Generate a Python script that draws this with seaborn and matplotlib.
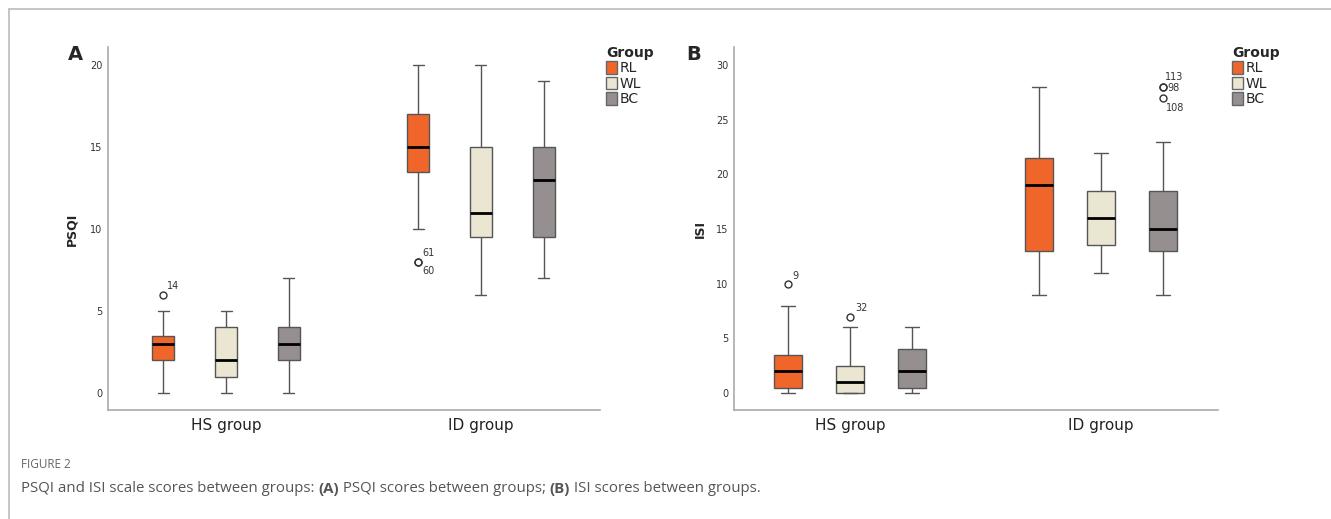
import matplotlib
matplotlib.use("Agg")
import matplotlib.pyplot as plt
import matplotlib.patches as mpatches
from matplotlib.lines import Line2D
import pandas as pd
import seaborn as sns

groups = ["HS group", "ID group"]
hues = ["RL", "WL", "BC"]
colors = ["#F0662A", "#EBE6D2", "#958F90"]

# box order: HS-RL, HS-WL, HS-BC, ID-RL, ID-WL, ID-BC
# values (low whisker, Q1, median, Q3, high whisker, outliers)
psqi_low = [0, 0, 0, 10, 6, 7]
psqi_q1 = [2, 1, 2, 13.5, 9.5, 9.5]
psqi_med = [3, 2, 3, 15, 11, 13]
psqi_q3 = [3.5, 4, 4, 17, 15, 15]
psqi_high = [5, 5, 7, 20, 20, 19]
psqi_out = [[6], [], [], [8, 8], [], []]
psqi_out_ids = [["14"], [], [], ["61", "60"], [], []]

isi_low = [0, 0, 0, 9, 11, 9]
isi_q1 = [0.5, 0, 0.5, 13, 13.5, 13]
isi_med = [2, 1, 2, 19, 16, 15]
isi_q3 = [3.5, 2.5, 4, 21.5, 18.5, 18.5]
isi_high = [8, 6, 6, 28, 22, 23]
isi_out = [[10], [7], [], [], [], [28, 28, 27]]
isi_out_ids = [["9"], ["32"], [], [], [], ["113", "98", "108"]]

# label offsets in pixels for the case numbers
id_offsets = {"14": (4, 9), "61": (4, 9), "60": (4, -9), "9": (4, 8),
              "32": (5, 9), "113": (2, 10), "98": (5, -1), "108": (3, -10)}


def box_sample(lo, q1, med, q3, hi, out, k=4):
    # repeat the read values so that the quartiles land on them exactly
    low_out = sorted(o for o in out if o < q1)
    high_out = sorted(o for o in out if o > q3)
    a, b = len(low_out), len(high_out)
    return (low_out + [lo] + [q1] * (k - a) + [med] * k + [q3] * k
            + [q3] * (k - b - 1) + [hi] + high_out)


def make_frame(low, q1, med, q3, high, out):
    rows = []
    i = 0
    for g in groups:
        for h in hues:
            for v in box_sample(low[i], q1[i], med[i], q3[i], high[i], out[i]):
                rows.append({"group": g, "Group": h, "score": v})
            i += 1
    return pd.DataFrame(rows)


psqi_df = make_frame(psqi_low, psqi_q1, psqi_med, psqi_q3, psqi_high, psqi_out)
isi_df = make_frame(isi_low, isi_q1, isi_med, isi_q3, isi_high, isi_out)

sns.set_theme(style="white")
plt.rcParams["font.family"] = ["DejaVu Sans"]

W, H = 1331, 519
fig = plt.figure(figsize=(W / 100, H / 100), dpi=100)


def px_axes(x0, x1, y0, y1):
    return fig.add_axes([x0 / W, 1 - y1 / H, (x1 - x0) / W, (y1 - y0) / H])


panels = [
    dict(df=psqi_df, out=psqi_out, ids=psqi_out_ids, ylabel="PSQI", letter="A",
         rect=(108, 600, 47, 410), ylim=(-1.04, 21.1), ticks=[0, 5, 10, 15, 20],
         gap=0.65, letter_xy=(75, 54), ylab_x=72, leg_x=606),
    dict(df=isi_df, out=isi_out, ids=isi_out_ids, ylabel="ISI", letter="B",
         rect=(734, 1218, 47, 410), ylim=(-1.55, 31.65),
         ticks=[0, 5, 10, 15, 20, 25, 30],
         gap=0.55, letter_xy=(694, 54), ylab_x=700, leg_x=1232),
]

box_width = 0.74
edge = "#555555"

for p in panels:
    ax = px_axes(*p["rect"])
    sns.boxplot(data=p["df"], x="group", y="score", hue="Group",
                order=groups, hue_order=hues, palette=colors, saturation=1,
                width=box_width, gap=p["gap"], linecolor=edge, linewidth=1.0,
                medianprops={"color": "black", "linewidth": 2.0},
                flierprops={"marker": "o", "markerfacecolor": "none",
                            "markeredgecolor": "#333333", "markersize": 5,
                            "markeredgewidth": 1.0},
                legend=False, ax=ax)
    ax.set_xlim(-0.463, 1.467)
    ax.set_ylim(*p["ylim"])
    ax.set_yticks(p["ticks"])
    ax.set_yticklabels([str(t) for t in p["ticks"]], fontsize=7, color="#333333")
    ax.tick_params(axis="both", length=0)
    ax.tick_params(axis="y", pad=4)
    ax.tick_params(axis="x", pad=6, labelsize=11, labelcolor="#222222")
    ax.set_xlabel("")
    ax.set_ylabel("")
    for side in ["top", "right"]:
        ax.spines[side].set_visible(False)
    for side in ["left", "bottom"]:
        ax.spines[side].set_color("#aaaaaa")
        ax.spines[side].set_linewidth(1.2)

    # case numbers next to outliers
    slot = box_width / len(hues)
    i = 0
    for gi in range(len(groups)):
        for hi in range(len(hues)):
            xpos = gi + (hi - 1) * slot
            for v, lab in zip(p["out"][i], p["ids"][i]):
                dx, dy = id_offsets[lab]
                ax.annotate(lab, (xpos, v), xytext=(dx, dy),
                            textcoords="offset pixels", ha="left", va="center",
                            fontsize=7, color="#333333")
            i += 1

    fig.text(p["ylab_x"] / W, 1 - 229 / H, p["ylabel"], rotation=90,
             ha="center", va="center", fontsize=9, fontweight="bold")
    fig.text(p["letter_xy"][0] / W, 1 - p["letter_xy"][1] / H, p["letter"],
             ha="center", va="center", fontsize=14, fontweight="bold")

    handles = [mpatches.Patch(facecolor=c, edgecolor="#666666", linewidth=1.0, label=h)
               for c, h in zip(colors, hues)]
    leg = fig.legend(handles=handles, title="Group", loc="upper left",
                     bbox_to_anchor=(p["leg_x"] / W, 1 - 46 / H),
                     frameon=False, fontsize=10, title_fontsize=10,
                     handlelength=0.8, handleheight=1.0, handletextpad=0.2,
                     labelspacing=0.1, borderaxespad=0, borderpad=0,
                     alignment="left")
    leg.get_title().set_fontweight("bold")

# frame lines
fig.add_artist(Line2D([9 / W, 1], [1 - 9 / H, 1 - 9 / H], color="#c0c0c0", lw=1.3))
fig.add_artist(Line2D([9 / W, 9 / W], [0, 1 - 9 / H], color="#c0c0c0", lw=1.3))

# caption
fig.text(21 / W, 1 - 464 / H, "FIGURE 2", ha="left", va="center",
         fontsize=8.5, color="#666666", family="Open Sans")
pieces = [("PSQI and ISI scale scores between groups: ", "normal"),
          ("(A)", "bold"), (" PSQI scores between groups; ", "normal"),
          ("(B)", "bold"), (" ISI scores between groups.", "normal")]
renderer = fig.canvas.get_renderer()
x = 21
for txt, wt in pieces:
    t = fig.text(x / W, 1 - 489 / H, txt, ha="left", va="center", fontsize=10.8,
                 color="#555555", family="Open Sans", fontweight=wt)
    x += t.get_window_extent(renderer=renderer).width

fig.savefig("out.png", dpi=100)
